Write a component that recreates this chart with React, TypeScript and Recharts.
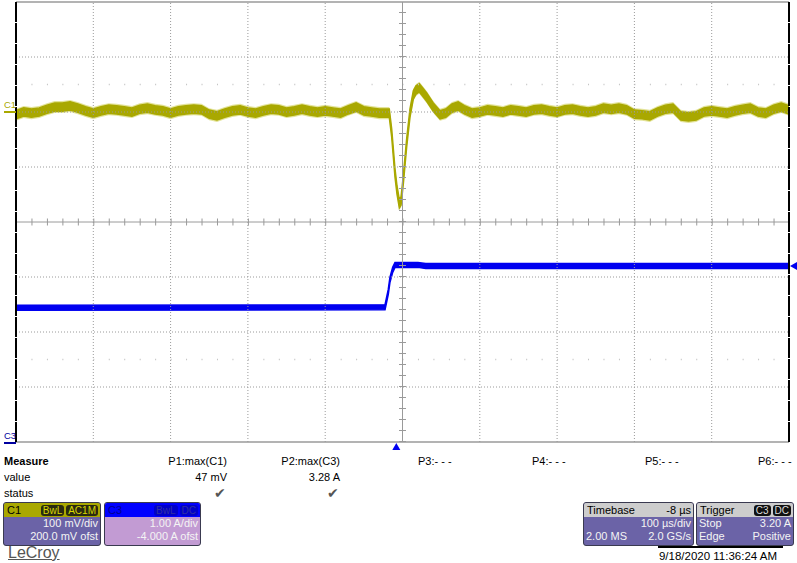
import React from "react";
import {
  ComposedChart,
  Area,
  XAxis,
  YAxis,
  ReferenceLine,
  ReferenceDot,
} from "recharts";

// time in µs relative to screen centre, C1 in mV, C3 in A
const c1Time = [
  -500, -490, -480, -470, -460, -450, -440, -430, -420, -410, -400, -390, -380,
  -370, -360, -350, -340, -330, -320, -310, -300, -290, -280, -270, -260, -250,
  -240, -230, -220, -210, -200, -190, -180, -170, -160, -150, -140, -130, -120,
  -110, -100, -90, -80, -70, -60, -50, -40, -30, -20, -17.1, -14, -9.7, -7.1,
  -4.1, -1.9, 1, 5.4, 9.7, 14, 17.5, 21.7, 25.2, 31.3, 39.8, 48.5, 56, 64, 72,
  80, 90, 100, 110, 120, 130, 140, 150, 160, 170, 180, 190, 200, 210, 220, 230,
  240, 250, 260, 270, 280, 290, 300, 310, 320, 330, 340, 350, 360, 370, 380,
  390, 400, 410, 420, 430, 440, 450, 460, 470, 480, 490, 500,
];
const c1Mv = [
  -5, 0, -2, 0, 5, 9, 9, 11, 7, 2, -2, 2, 5, 4, 2, 0, 5, 7, 4, 2, -2, 2, 4, 5,
  4, -4, -7, -2, 2, 4, 0, -2, 2, 5, 4, 0, 2, 5, 2, 0, 2, 0, -2, 4, 9, 2, 0, -2,
  -2, -2, -38, -111, -142, -167, -162, -124, -56, -2, 31, 40, 44, 38, 27, 9, -5,
  -2, 7, 11, 4, -2, 0, 4, 2, 0, 4, 2, 0, 4, 5, 2, 0, 4, 5, 2, 0, 2, 7, 5, 7, 4,
  -4, -5, -7, 0, 5, 7, -7, -9, -7, 0, 2, 0, -2, 2, 5, 7, 0, -2, 5, 9, 4,
];

const c3Time = [-500, -22.6, -18.4, -16.2, -12.7, -9.7, 20, 30, 500];
const c3Amp = [2.44, 2.45, 2.73, 2.95, 3.13, 3.22, 3.22, 3.2, 3.2];

const xGrid = [-400, -300, -200, -100, 100, 200, 300, 400];
const c1Grid = [-500, -400, -300, -100, 0, 100];
const triggerTime = -8;

const c1Data = c1Time.map((t, i) => ({ t, v: c1Mv[i] }));
const c3Data = c3Time.map((t, i) => ({ t, v: c3Amp[i] }));

const YEL = "#a9a800";
const BLUE = "#0000f0";
const GRID = "#9a9a9a";
const FONT = "'Liberation Sans', Arial, sans-serif";

const txt = (left: number, top: number, s: string, extra: any = {}) => (
  <div
    style={{
      position: "absolute",
      left,
      top,
      fontSize: 11,
      lineHeight: "13px",
      whiteSpace: "nowrap",
      ...extra,
    }}
  >
    {s}
  </div>
);

const rtxt = (right: number, top: number, s: string, extra: any = {}) => (
  <div
    style={{
      position: "absolute",
      right: 797 - right,
      top,
      fontSize: 11,
      lineHeight: "13px",
      whiteSpace: "nowrap",
      ...extra,
    }}
  >
    {s}
  </div>
);

const pill = (s: string, bg: string, color: string) => (
  <span
    style={{
      background: bg,
      color,
      borderRadius: 3,
      padding: "0 2px",
      marginLeft: 2,
      fontSize: 10,
      lineHeight: "11px",
    }}
  >
    {s}
  </span>
);

function Box(props: {
  left: number;
  width: number;
  head: string;
  headBg: string;
  headColor: string;
  pills: React.ReactNode;
  bodyBg: string;
  rows: [string, string][];
}) {
  return (
    <div
      style={{
        position: "absolute",
        left: props.left,
        top: 502,
        width: props.width,
        height: 42,
        border: "1px solid #3a3a50",
        borderRadius: 3,
        overflow: "hidden",
        background: props.bodyBg,
        fontSize: 11,
        lineHeight: "13px",
      }}
    >
      <div
        style={{
          background: props.headBg,
          color: props.headColor,
          height: 14,
          display: "flex",
          justifyContent: "space-between",
          alignItems: "center",
          padding: "0 2px 0 3px",
        }}
      >
        <span>{props.head}</span>
        <span>{props.pills}</span>
      </div>
      {props.rows.map((r, i) => (
        <div
          key={i}
          style={{
            display: "flex",
            justifyContent: "space-between",
            color: "#f4f4f4",
            padding: "0 2px 0 2px",
          }}
        >
          <span>{r[0]}</span>
          <span>{r[1]}</span>
        </div>
      ))}
    </div>
  );
}

export default function App() {
  return (
    <div
      style={{
        position: "absolute",
        left: 0,
        top: 0,
        width: 797,
        height: 563,
        background: "#fff",
        fontFamily: FONT,
        color: "#000",
        overflow: "hidden",
      }}
    >
      <ComposedChart
        width={797}
        height={452}
        margin={{ top: 2, right: 8, bottom: 10, left: 16 }}
      >
        <XAxis
          dataKey="t"
          type="number"
          domain={[-500, 500]}
          allowDataOverflow
          hide
        />
        <YAxis yAxisId="c1" type="number" domain={[-600, 200]} allowDataOverflow hide />
        <YAxis yAxisId="c3" type="number" domain={[0, 8]} allowDataOverflow hide />

        {xGrid.map((x) => (
          <ReferenceLine key={"x" + x} x={x} yAxisId="c1" stroke={GRID} strokeDasharray="1 2" />
        ))}
        {c1Grid.map((y) => (
          <ReferenceLine key={"y" + y} y={y} yAxisId="c1" stroke={GRID} strokeDasharray="1 2" />
        ))}
        <ReferenceLine y={50} yAxisId="c1" stroke="#c4c4c4" strokeWidth={1.5} strokeDasharray="1 14.46" />
        <ReferenceLine y={-450} yAxisId="c1" stroke="#c4c4c4" strokeWidth={1.5} strokeDasharray="1 14.46" />

        {/* centre cross with minor ticks */}
        <ReferenceLine x={0} yAxisId="c1" stroke={GRID} />
        <ReferenceLine x={0} yAxisId="c1" stroke={GRID} strokeWidth={7} strokeDasharray="1 10" />
        <ReferenceLine y={-200} yAxisId="c1" stroke={GRID} />
        <ReferenceLine y={-200} yAxisId="c1" stroke={GRID} strokeWidth={7} strokeDasharray="1 14.46" />

        {/* borders */}
        <ReferenceLine y={200} yAxisId="c1" stroke={GRID} strokeWidth={1.5} />
        <ReferenceLine y={-600} yAxisId="c1" stroke={GRID} strokeWidth={1.5} />
        <ReferenceLine x={-500} yAxisId="c1" stroke="#000" strokeWidth={2} strokeDasharray="20 1" />
        <ReferenceLine x={500} yAxisId="c1" stroke="#000" strokeWidth={2} strokeDasharray="20 1" />

        <Area
          data={c1Data}
          yAxisId="c1"
          dataKey={(d: any) => [d.v - 11, d.v + 11]}
          stroke="none"
          fill="#dcdc80"
          fillOpacity={0.8}
          isAnimationActive={false}
        />
        <Area
          data={c1Data}
          yAxisId="c1"
          dataKey={(d: any) => [d.v - 7.5, d.v + 7.5]}
          stroke={YEL}
          strokeWidth={1.5}
          fill={YEL}
          fillOpacity={1}
          isAnimationActive={false}
        />
        <Area
          data={c3Data}
          yAxisId="c3"
          dataKey={(d: any) => [d.v - 0.045, d.v + 0.045]}
          stroke={BLUE}
          strokeWidth={1.5}
          fill={BLUE}
          fillOpacity={1}
          isAnimationActive={false}
        />

        <ReferenceDot
          x={-500}
          y={0}
          yAxisId="c1"
          ifOverflow="visible"
          shape={(p: any) => (
            <g>
              <line x1={4} x2={p.cx} y1={p.cy} y2={p.cy} stroke={YEL} strokeWidth={2} />
              <text x={4} y={p.cy - 4} fontSize={9.5} fill={YEL} fontFamily={FONT}>
                C1
              </text>
            </g>
          )}
        />
        <ReferenceDot
          x={-500}
          y={0}
          yAxisId="c3"
          ifOverflow="visible"
          shape={(p: any) => (
            <g>
              <line x1={4} x2={p.cx} y1={p.cy + 1} y2={p.cy + 1} stroke="#0000a0" strokeWidth={2} />
              <text x={4} y={p.cy - 3} fontSize={9.5} fill="#0000a0" fontFamily={FONT}>
                C3
              </text>
            </g>
          )}
        />
        <ReferenceDot
          x={500}
          y={c3Amp[c3Amp.length - 1]}
          yAxisId="c3"
          ifOverflow="visible"
          shape={(p: any) => (
            <polygon
              points={`${p.cx + 1},${p.cy} ${p.cx + 8},${p.cy - 4} ${p.cx + 8},${p.cy + 4}`}
              fill={BLUE}
            />
          )}
        />
        <ReferenceDot
          x={triggerTime}
          y={0}
          yAxisId="c3"
          ifOverflow="visible"
          shape={(p: any) => (
            <polygon
              points={`${p.cx},${p.cy + 1} ${p.cx - 4},${p.cy + 8} ${p.cx + 4},${p.cy + 8}`}
              fill={BLUE}
            />
          )}
        />
      </ComposedChart>

      {txt(4, 455, "Measure", { fontWeight: "bold" })}
      {txt(4, 471, "value")}
      {txt(4, 487, "status")}
      {rtxt(227, 455, "P1:max(C1)")}
      {rtxt(340, 455, "P2:max(C3)")}
      {txt(418, 455, "P3:- - -")}
      {txt(532, 455, "P4:- - -")}
      {txt(645, 455, "P5:- - -")}
      {txt(758, 455, "P6:- - -")}
      {rtxt(227, 471, "47 mV")}
      {rtxt(340, 471, "3.28 A")}
      {rtxt(226, 486, "✔", { color: "#555", fontSize: 14, lineHeight: "15px" })}
      {rtxt(339, 486, "✔", { color: "#555", fontSize: 14, lineHeight: "15px" })}

      <Box
        left={3}
        width={96}
        head="C1"
        headBg={YEL}
        headColor="#000"
        pills={
          <>
            {pill("BwL", "#2a2a10", "#d8d800")}
            {pill("AC1M", "#2a2a10", "#d8d800")}
          </>
        }
        bodyBg="#6b63a7"
        rows={[
          ["", "100 mV/div"],
          ["", "200.0 mV ofst"],
        ]}
      />
      <Box
        left={104}
        width={95}
        head="C3"
        headBg="#0000ff"
        headColor="#000090"
        pills={
          <>
            {pill("BwL", "#0000c8", "#3030a0")}
            {pill("DC", "#0000c8", "#3030a0")}
          </>
        }
        bodyBg="#c29bd3"
        rows={[
          ["", "1.00 A/div"],
          ["", "-4.000 A ofst"],
        ]}
      />
      <Box
        left={583}
        width={109}
        head="Timebase"
        headBg="#cdcdcd"
        headColor="#000"
        pills={<span>-8 µs</span>}
        bodyBg="#6b63a7"
        rows={[
          ["", "100 µs/div"],
          ["2.00 MS", "2.0 GS/s"],
        ]}
      />
      <Box
        left={696}
        width={96}
        head="Trigger"
        headBg="#cdcdcd"
        headColor="#000"
        pills={
          <>
            {pill("C3", "#111", "#ddd")}
            {pill("DC", "#111", "#ddd")}
          </>
        }
        bodyBg="#6b63a7"
        rows={[
          ["Stop", "3.20 A"],
          ["Edge", "Positive"],
        ]}
      />

      <div
        style={{
          position: "absolute",
          left: 658,
          top: 546,
          width: 125,
          height: 2,
          background: "#000",
        }}
      />
      {rtxt(777, 550, "9/18/2020 11:36:24 AM", { fontSize: 11.5 })}
      <div
        style={{
          position: "absolute",
          left: 8,
          top: 544,
          fontSize: 16,
          lineHeight: "18px",
          color: "#555",
          textDecoration: "underline",
          textUnderlineOffset: 1,
        }}
      >
        LeCroy
      </div>
    </div>
  );
}
